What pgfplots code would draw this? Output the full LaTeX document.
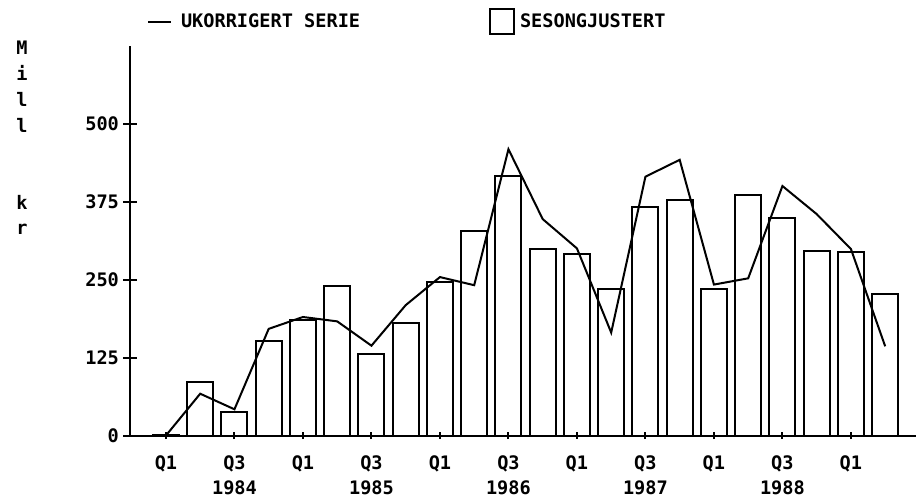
\documentclass[border=0pt]{standalone}
\usepackage{fontspec}
\setmainfont{DejaVu Sans Mono}[UprightFont=* Bold]
\usepackage{pgfplots}
\pgfplotsset{compat=1.18}
\begin{document}
\begin{tikzpicture}[font=\fontsize{9.3}{12.5}\selectfont]
\useasboundingbox (0,0) rectangle (458pt,249.5pt);
\begin{axis}[
  at={(65pt,31.75pt)}, anchor=south west,
  scale only axis, width=393pt, height=194.9pt,
  xmin=-1.05, xmax=21.9, ymin=0, ymax=625,
  axis x line*=bottom, axis y line*=left,
  axis line style={-, line width=1pt},
  tick align=center,
  major tick length=6.7pt,
  xtick={0,2,4,6,8,10,12,14,16,18,20},
  xticklabels={Q1,{Q3\\1984},Q1,{Q3\\1985},Q1,{Q3\\1986},Q1,{Q3\\1987},Q1,{Q3\\1988},Q1},
  xticklabel style={align=center, inner sep=0pt, anchor=north, yshift=-6.5pt},
  ytick={0,125,250,375,500},
  yticklabels={0,125,250,375,500},
  yticklabel style={inner sep=0pt, anchor=east, xshift=-2pt},
  /pgf/number format/assume math mode=true,
  xtick style={draw=none},
  ytick style={black, line width=1pt},
  clip=false,
  legend columns=2,
  legend style={draw=none, fill=none, inner sep=0pt, outer sep=0pt,
    at={(0.02163,1.0608)}, anchor=west,
    nodes={inner sep=0pt, outer sep=0pt},
    font=\fontsize{9.3}{12.5}\selectfont},
]
\addlegendimage{legend image code/.code={\draw[line width=1pt] (0pt,0pt) -- (11.5pt,0pt);}}
\addlegendentry{\hspace{4.5pt}\makebox[154pt][l]{UKORRIGERT SERIE}}
\addlegendimage{legend image code/.code={\draw[line width=1pt] (0pt,-6.25pt) rectangle (12pt,6.25pt);}}
\addlegendentry{\hspace{2.5pt}SESONGJUSTERT}
\addplot[ybar, bar width=13pt, fill=white, draw=black, line width=1pt, forget plot] coordinates {
(0,1) (1,86) (2,38) (3,151) (4,185) (5,240) (6,131) (7,180) (8,246) (9,328) (10,416)
(11,299) (12,291) (13,235) (14,366) (15,378) (16,235) (17,386) (18,348) (19,296) (20,294) (21,227)};
\addplot[sharp plot, black, line width=1pt, mark=none, forget plot] coordinates {
(0,0) (1,67) (2,42) (3,171) (4,190) (5,183) (6,144) (7,209) (8,254) (9,241) (10,459)
(11,347) (12,300) (13,165) (14,415) (15,442) (16,242) (17,252) (18,400) (19,355) (20,299) (21,143)};
\end{axis}
\begin{axis}[
  at={(65pt,31.75pt)}, anchor=south west,
  scale only axis, width=393pt, height=194.9pt,
  xmin=-1.05, xmax=21.9, ymin=0, ymax=625,
  axis x line*=bottom, axis y line=none,
  axis line style={-, line width=1pt},
  tick align=center,
  major tick length=3.5pt,
  xtick={0,2,4,6,8,10,12,14,16,18,20},
  xticklabels={},
  every tick/.style={black, line width=1pt},
  xtick style={black, line width=1pt},
]
\end{axis}
\foreach \ch [count=\i from 0] in {M,i,l,l} {
  \node[anchor=base, inner sep=0pt] at (11pt,222pt-\i*12.85pt) {\ch};
}
\node[anchor=base, inner sep=0pt] at (11pt,222pt-6*12.85pt) {k};
\node[anchor=base, inner sep=0pt] at (11pt,222pt-7*12.85pt) {r};
\end{tikzpicture}
\end{document}
